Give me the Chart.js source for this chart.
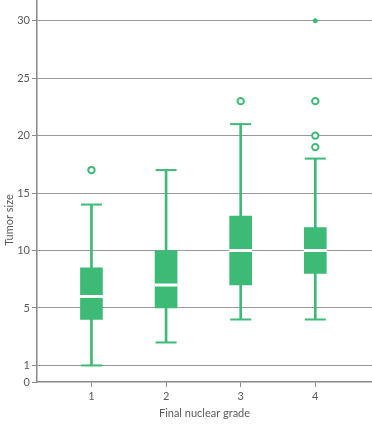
<!DOCTYPE html>
<html>
<head>
<meta charset="utf-8">
<script src="https://cdn.jsdelivr.net/npm/chart.js@4/dist/chart.umd.min.js"></script>
<style>
	html, body { margin: 0; padding: 0; background: #fff; }
	#wrap { width: 372px; height: 424px; }
</style>
</head>
<body>
<div id="wrap"><canvas id="chart" width="372" height="424"></canvas></div>
<script>
const grades = [1, 2, 3, 4];
const whiskerLow = [1, 2, 4, 4];
const quartile1 = [4, 5, 7, 8];
const medians = [6, 7, 10, 10];
const quartile3 = [8.5, 10, 13, 12];
const whiskerHigh = [14, 17, 21, 18];
const outlierGrades = [1, 3, 4, 4, 4];
const outlierSizes = [17, 23, 23, 20, 19];
const extremeGrades = [4];
const extremeSizes = [30];
const sizeTicks = [0, 1, 5, 10, 15, 20, 25, 30];

const green = '#3dba76';
const labelColor = '#5a5a5a';
const axisColor = '#8a8a8a';
const fontFamily = 'Lato, "Open Sans", sans-serif';

// the y axis in the original is broken below 2: "1" sits where 0 would be, "0" sits below it
function warp(v) {
	if (v >= 2) return v;
	if (v >= 1) return 2 * (v - 1);
	return -1.44 + 1.44 * v;
}
function unwarp(w) {
	if (w >= 2) return w;
	if (w >= 0) return 1 + w / 2;
	return (w + 1.44) / 1.44;
}

class BrokenScale extends Chart.LinearScale {
	static id = 'broken';
	static defaults = {};
	buildTicks() {
		return sizeTicks.map(v => ({ value: v }));
	}
	getPixelForValue(value) {
		if (value === null || value === undefined || isNaN(value)) return NaN;
		return super.getPixelForValue(warp(value));
	}
	getValueForPixel(pixel) {
		return unwarp(super.getValueForPixel(pixel));
	}
}
Chart.register(BrokenScale);

const yTitle = {
	id: 'yTitle',
	afterDraw(chart) {
		const ctx = chart.ctx;
		ctx.save();
		ctx.translate(9, 220);
		ctx.rotate(-Math.PI / 2);
		ctx.font = '11px ' + fontFamily;
		ctx.fillStyle = labelColor;
		ctx.textAlign = 'center';
		ctx.textBaseline = 'middle';
		ctx.fillText('Tumor size', 0, 0);
		ctx.restore();
	}
};

function noPadding(scale) {
	scale.paddingTop = 0;
	scale.paddingBottom = 0;
	scale.paddingLeft = 0;
	scale.paddingRight = 0;
}

const points = (xs, ys) => xs.map((x, i) => ({ x: x, y: ys[i] }));

new Chart(document.getElementById('chart'), {
	type: 'bar',
	data: {
		datasets: [
			{
				label: 'whiskers',
				data: grades.map((g, i) => ({ x: g, y: [whiskerLow[i], whiskerHigh[i]] })),
				backgroundColor: green,
				barThickness: 2,
				grouped: false,
				order: 5,
			},
			{
				label: 'boxes',
				data: grades.map((g, i) => ({ x: g, y: [quartile1[i], quartile3[i]] })),
				backgroundColor: green,
				barThickness: 22,
				grouped: false,
				order: 4,
			},
			{
				type: 'scatter',
				label: 'caps',
				data: points(grades, whiskerLow).concat(points(grades, whiskerHigh)),
				pointStyle: 'line',
				pointRadius: 10.5,
				pointBorderColor: green,
				pointBorderWidth: 2,
				order: 3,
			},
			{
				type: 'scatter',
				label: 'medians',
				data: points(grades, medians),
				pointStyle: 'line',
				pointRadius: 11.5,
				pointBorderColor: '#ffffff',
				pointBorderWidth: 3,
				order: 2,
			},
			{
				type: 'scatter',
				label: 'outliers',
				data: points(outlierGrades, outlierSizes),
				pointStyle: 'circle',
				pointRadius: 3.2,
				pointBackgroundColor: '#ffffff',
				pointBorderColor: green,
				pointBorderWidth: 2,
				order: 1,
			},
			{
				type: 'scatter',
				label: 'extremes',
				data: points(extremeGrades, extremeSizes),
				pointStyle: 'star',
				pointRadius: 2.5,
				pointBackgroundColor: green,
				pointBorderColor: green,
				pointBorderWidth: 1.5,
				order: 0,
			},
		],
	},
	options: {
		responsive: false,
		animation: false,
		events: [],
		layout: { padding: 0, autoPadding: false },
		plugins: {
			legend: { display: false },
			tooltip: { enabled: false },
		},
		scales: {
			x: {
				type: 'linear',
				min: 0.27,
				max: 4.76,
				offset: false,
				afterBuildTicks: scale => { scale.ticks = grades.map(v => ({ value: v })); },
				afterFit: scale => { scale.height = 42; noPadding(scale); },
				grid: {
					offset: false,
					drawOnChartArea: false,
					drawTicks: true,
					tickLength: 5,
					tickColor: axisColor,
					tickWidth: 1,
				},
				border: { color: axisColor, width: 1.5 },
				ticks: {
					color: labelColor,
					padding: 3,
					font: { family: fontFamily, size: 11 },
					callback: v => String(v),
				},
				title: {
					display: true,
					text: 'Final nuclear grade',
					color: labelColor,
					font: { family: fontFamily, size: 11 },
					padding: { top: 0, bottom: 4 },
				},
			},
			y: {
				type: 'broken',
				min: -1.44,
				max: 31.8,
				afterFit: scale => { scale.width = 37; noPadding(scale); },
				grid: {
					color: ctx => (ctx.tick && ctx.tick.value === 0 ? 'rgba(0,0,0,0)' : '#333333'),
					lineWidth: 1,
					drawTicks: true,
					tickLength: 5,
					tickColor: axisColor,
					tickWidth: 1,
				},
				border: { color: axisColor, width: 1.5, dash: [1, 1] },
				ticks: {
					color: labelColor,
					padding: 2,
					font: { family: fontFamily, size: 11 },
					callback: v => String(v),
				},
			},
		},
	},
	plugins: [yTitle],
});
</script>
</body>
</html>
